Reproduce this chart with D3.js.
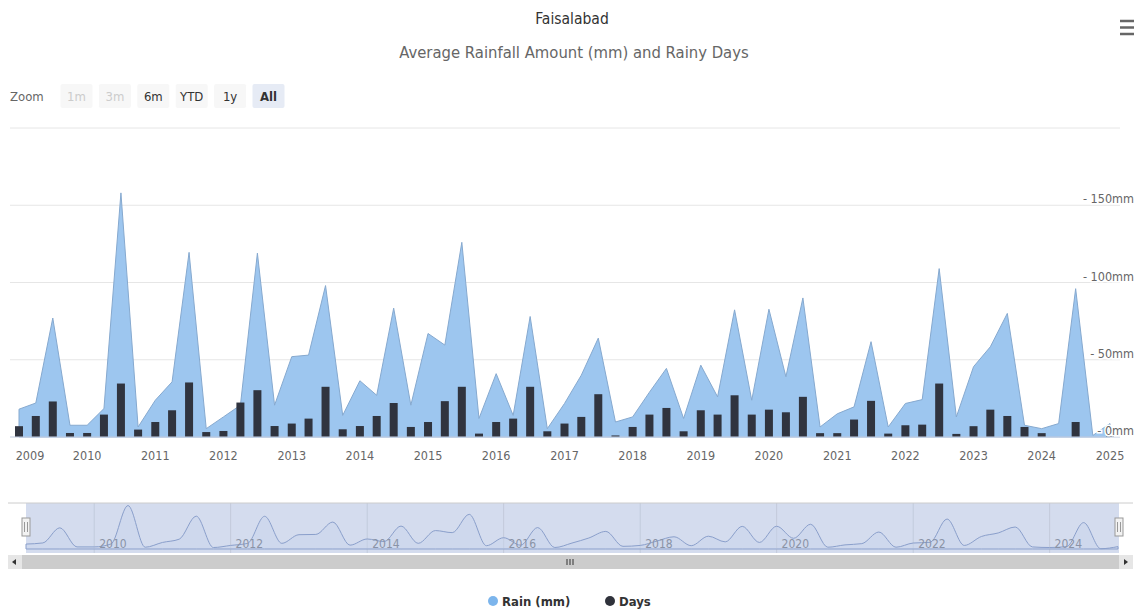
<!DOCTYPE html>
<html>
<head>
<meta charset="utf-8">
<script src="https://cdn.jsdelivr.net/npm/d3@7"></script>
<style>
  html, body { margin: 0; padding: 0; background: #fff; }
  svg { display: block; font-family: "Liberation Sans Narrow", "DejaVu Sans Condensed", "Arial Narrow", sans-serif; }
</style>
</head>
<body>
<script>
// Quarterly points, Jan / Apr / Jul / Oct, from 2009 to Jan 2025
const years = d3.range(2009, 2026);
const rainMm = [
  18, 22, 77, 7.6,
  7.6, 18.4, 158, 6.5,
  23.8, 35.7, 119.5, 5.4,
  13, 20.6, 119, 20.6,
  52, 53, 98, 14,
  36.4, 27, 83.4, 20.6,
  67, 59.5, 126, 12,
  41, 14, 78, 5.4,
  21.7, 40, 64, 9.7,
  13, 29, 44.4, 12,
  46.5, 26, 82.3, 23.8,
  82.7, 39, 90, 6.5,
  15, 19.5, 61.7, 6.5,
  21.7, 24.2, 109, 13,
  45.5, 58.4, 80, 7.6,
  5.4, 8.7, 96, 1,
  8.7
];
const rainyDays = [
  7, 13.6, 23, 2.6,
  2.6, 14.5, 34.6, 4.8,
  9.7, 17.3, 35.3, 3.2,
  3.9, 22.3, 30.3, 7.1,
  8.7, 11.9, 32.5, 5,
  7.1, 13.6, 22, 6.5,
  9.7, 23.2, 32.5, 2.2,
  9.7, 11.9, 32.5, 3.7,
  8.7, 13, 27.7, 1,
  6.5, 14.5, 18.8, 3.7,
  17.3, 14.5, 27, 14.5,
  17.7, 16, 26, 2.5,
  2.5, 11.3, 23.4, 2.2,
  7.6, 8, 34.6, 2,
  7, 17.7, 13.6, 6.5,
  2.5, 0, 9.7, 0,
  0.6
];
const yTicks = [0, 50, 100, 150, 200];
const zoomButtons = ["1m", "3m", "6m", "YTD", "1y", "All"];
const navYears = [2010, 2012, 2014, 2016, 2018, 2020, 2022, 2024];

const dates = rainMm.map((d, i) => new Date(2009 + Math.floor(i / 4), (i % 4) * 3, 1));
const data = dates.map((d, i) => ({ date: d, rain: rainMm[i], days: rainyDays[i] }));

const W = 1139, H = 612;
const svg = d3.select("body").append("svg").attr("width", W).attr("height", H);

// title + subtitle
svg.append("text").attr("x", 572).attr("y", 24).attr("text-anchor", "middle")
  .attr("font-size", 15.5).attr("fill", "#333").text("Faisalabad");
svg.append("text").attr("x", 574).attr("y", 58).attr("text-anchor", "middle")
  .attr("font-size", 16.5).attr("fill", "#666").text("Average Rainfall Amount (mm) and Rainy Days");

// hamburger menu
[21, 27.5, 34].forEach(y => svg.append("line").attr("x1", 1120).attr("x2", 1134)
  .attr("y1", y).attr("y2", y).attr("stroke", "#666").attr("stroke-width", 2.5));

// range selector
svg.append("text").attr("x", 10).attr("y", 101).attr("font-size", 13).attr("fill", "#666").text("Zoom");
const btn = svg.append("g").selectAll("g").data(zoomButtons).join("g")
  .attr("transform", (d, i) => `translate(${76.5 + i * 38.4},0)`);
btn.append("rect").attr("x", -16).attr("y", 84).attr("width", 32).attr("height", 24).attr("rx", 2)
  .attr("fill", d => d === "All" ? "#e6ebf5" : "#f7f7f7");
btn.append("text").attr("y", 101).attr("text-anchor", "middle").attr("font-size", 13)
  .attr("font-weight", d => d === "All" ? "bold" : "normal")
  .attr("fill", (d, i) => i < 2 ? "#cccccc" : "#333").text(d => d);

// main plot
const plotL = 10, plotR = 1120;
const x = d3.scaleTime().domain([new Date(2009, 0, 1), new Date(2025, 0, 1)]).range([19, 1110]);
const y = d3.scaleLinear().domain([0, 200]).range([437, 128]);
const yDays = d3.scaleLinear().domain([0, 200]).range([437, 128]);

svg.append("g").selectAll("line").data(yTicks).join("line")
  .attr("x1", plotL).attr("x2", plotR).attr("y1", d => y(d)).attr("y2", d => y(d))
  .attr("stroke", "#e6e6e6");

svg.append("path").datum(data)
  .attr("d", d3.area().x(d => x(d.date)).y0(y(0)).y1(d => y(d.rain)))
  .attr("fill", "#9dc6ef").attr("stroke", "#86a9cf").attr("stroke-width", 1);

svg.append("g").selectAll("rect").data(data).join("rect")
  .attr("x", d => x(d.date) - 4).attr("width", 8)
  .attr("y", d => yDays(d.days)).attr("height", d => yDays(0) - yDays(d.days))
  .attr("fill", "#30343f");

svg.append("line").attr("x1", plotL).attr("x2", plotR).attr("y1", y(0)).attr("y2", y(0))
  .attr("stroke", "#ccd6eb");

// x labels
svg.append("g").selectAll("text").data(years).join("text")
  .attr("x", d => { const px = x(new Date(d, 0, 1)); return d === 2009 ? px + 11 : px; })
  .attr("y", 460).attr("text-anchor", "middle").attr("font-size", 12.5).attr("fill", "#666")
  .text(d => d);

// y labels
svg.append("g").selectAll("text").data(yTicks.filter(d => d < 200)).join("text")
  .attr("x", 1134).attr("y", d => y(d) - 2).attr("text-anchor", "end")
  .attr("font-size", 12.5).attr("fill", "#666")
  .attr("stroke", "#fff").attr("stroke-width", 3).attr("paint-order", "stroke")
  .text(d => `- ${d}mm`);

// navigator
const nx = d3.scaleTime().domain([new Date(2009, 0, 1), new Date(2025, 0, 1)]).range([26, 1118]);
const ny = d3.scaleLinear().domain([0, 160]).range([549, 505]);
svg.append("rect").attr("x", 26).attr("y", 503).attr("width", 1093).attr("height", 50)
  .attr("fill", "#d4dcee");
svg.append("g").selectAll("line").data(navYears).join("line")
  .attr("x1", d => nx(new Date(d, 0, 1))).attr("x2", d => nx(new Date(d, 0, 1)))
  .attr("y1", 503).attr("y2", 553).attr("stroke", "#c3cbdc");
svg.append("path").datum(data)
  .attr("d", d3.area().curve(d3.curveMonotoneX).x(d => nx(d.date)).y0(ny(0)).y1(d => ny(d.rain)))
  .attr("fill", "#c8d4ec").attr("fill-opacity", 0.5)
  .attr("stroke", "#8a9fcb").attr("stroke-width", 1);
svg.append("g").selectAll("text").data(navYears).join("text")
  .attr("x", d => nx(new Date(d, 0, 1)) + 5).attr("y", 548)
  .attr("font-size", 12).attr("fill", "#8a93a6").text(d => d);
svg.append("line").attr("x1", 8).attr("x2", 1133).attr("y1", 503).attr("y2", 503).attr("stroke", "#ccc");
// handles
[26, 1119].forEach(hx => {
  svg.append("rect").attr("x", hx - 4).attr("y", 518).attr("width", 8).attr("height", 18)
    .attr("fill", "#f2f2f2").attr("stroke", "#999");
  [-1.5, 1.5].forEach(o => svg.append("line").attr("x1", hx + o).attr("x2", hx + o)
    .attr("y1", 522).attr("y2", 532).attr("stroke", "#999"));
});

// scrollbar
svg.append("rect").attr("x", 8).attr("y", 555).attr("width", 1125).attr("height", 14).attr("fill", "#f2f2f2");
svg.append("rect").attr("x", 22).attr("y", 555).attr("width", 1097).attr("height", 14).attr("fill", "#cccccc");
svg.append("rect").attr("x", 8).attr("y", 555).attr("width", 14).attr("height", 14).attr("fill", "#e6e6e6");
svg.append("rect").attr("x", 1119).attr("y", 555).attr("width", 14).attr("height", 14).attr("fill", "#e6e6e6");
svg.append("path").attr("d", "M16,559 L12,562 L16,565 Z").attr("fill", "#333");
svg.append("path").attr("d", "M1124,559 L1128,562 L1124,565 Z").attr("fill", "#333");
[-3, 0, 3].forEach(o => svg.append("line").attr("x1", 570 + o).attr("x2", 570 + o)
  .attr("y1", 559).attr("y2", 565).attr("stroke", "#333"));

// legend
const legend = [
  { name: "Rain (mm)", color: "#7cb5ec", x: 493 },
  { name: "Days", color: "#2f323b", x: 610 }
];
const lg = svg.append("g").selectAll("g").data(legend).join("g");
lg.append("circle").attr("cx", d => d.x).attr("cy", 601).attr("r", 5).attr("fill", d => d.color);
lg.append("text").attr("x", d => d.x + 9).attr("y", 606).attr("font-size", 13)
  .attr("font-weight", "bold").attr("fill", "#333").text(d => d.name);
</script>
</body>
</html>
